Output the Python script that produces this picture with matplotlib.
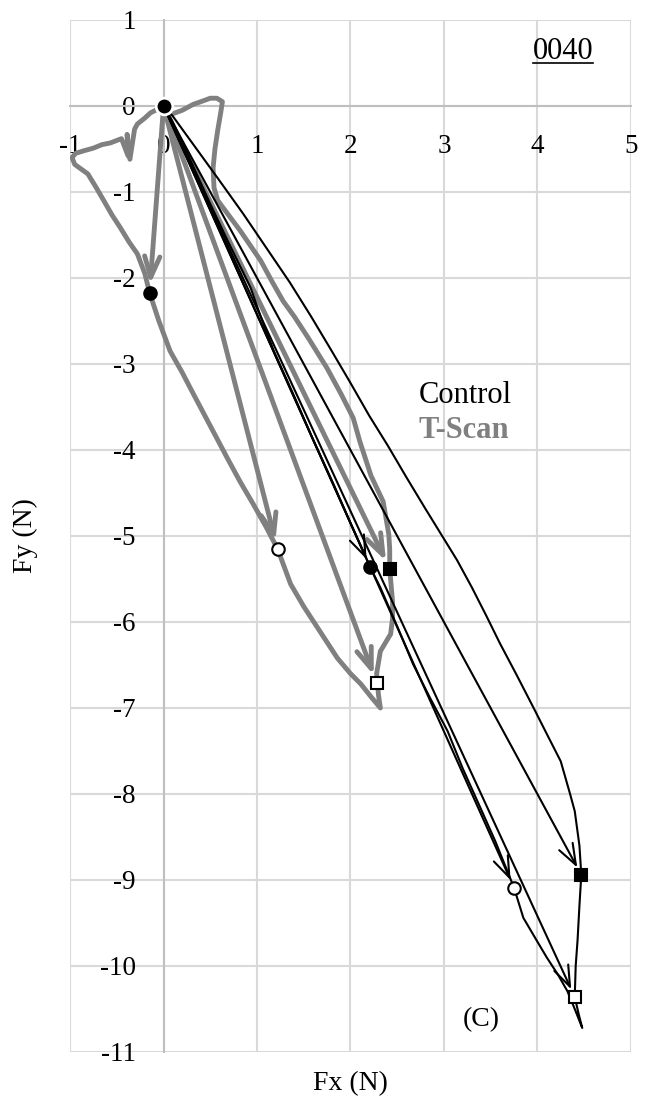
import numpy as np
import matplotlib
matplotlib.use("Agg")
import matplotlib.pyplot as plt
from matplotlib.lines import Line2D

plt.rcParams['font.family'] = ['Liberation Serif', 'DejaVu Serif']
plt.rcParams['axes.unicode_minus'] = False

# T-Scan trajectory (Fx, Fy)
tscan_x = [0, -0.05, -0.14, -0.2, -0.28, -0.31, -0.36, -0.39, -0.38, -0.45, -0.57, -0.66,
           -0.75, -0.85, -0.94, -0.98, -0.95, -0.81, -0.72, -0.64, -0.55, -0.46, -0.37,
           -0.28, -0.2, -0.15, -0.05, 0.07, 0.2, 0.32, 0.5, 0.68, 0.82, 0.96, 1.1, 1.22,
           1.36, 1.5, 1.65, 1.86, 2.0, 2.11, 2.22, 2.32, 2.3, 2.28, 2.32, 2.43, 2.45, 2.45,
           2.42, 2.42, 2.41, 2.35, 2.22, 2.1, 2.03, 1.9, 1.75, 1.55, 1.4, 1.28, 1.16, 1.04,
           0.82, 0.58, 0.54, 0.53, 0.55, 0.58, 0.61, 0.63, 0.57, 0.5, 0.4, 0.32, 0.2, 0.1,
           0.03, 0]
tscan_y = [0, -0.03, -0.08, -0.14, -0.21, -0.27, -0.62, -0.33, -0.58, -0.38, -0.43, -0.45,
           -0.49, -0.52, -0.55, -0.6, -0.68, -0.79, -0.95, -1.1, -1.27, -1.42, -1.58,
           -1.72, -1.95, -2.17, -2.5, -2.85, -3.1, -3.35, -3.72, -4.09, -4.37, -4.63, -4.9,
           -5.15, -5.56, -5.82, -6.07, -6.42, -6.6, -6.72, -6.87, -7.0, -6.85, -6.6, -6.34,
           -6.14, -5.96, -5.76, -5.38, -5.15, -4.98, -4.6, -4.3, -3.9, -3.63, -3.35, -3.05,
           -2.7, -2.45, -2.27, -2.04, -1.8, -1.45, -1.1, -0.95, -0.72, -0.5, -0.28, -0.09,
           0.05, 0.09, 0.09, 0.05, 0.02, -0.05, -0.09, -0.04, 0]

# Control trajectory
control_x = [0, 0.08, 0.2, 0.35, 0.5, 0.7, 0.93, 1.05, 1.18, 1.4, 1.6, 1.82, 2.0, 2.21,
             2.32, 2.5, 2.67, 2.85, 3.04, 3.2, 3.39, 3.55, 3.68, 3.75, 3.85, 3.98, 4.1,
             4.22, 4.32, 4.4, 4.48, 4.44, 4.40, 4.41, 4.43, 4.45, 4.47, 4.45, 4.40, 4.35,
             4.25, 4.1, 3.96, 3.78, 3.6, 3.45, 3.3, 3.14, 2.97, 2.8, 2.6, 2.4, 2.2,
             2.0, 1.8, 1.58, 1.35, 1.1, 0.85, 0.58, 0.3, 0.1, 0]
control_y = [0, -0.15, -0.42, -0.78, -1.14, -1.6, -2.11, -2.48, -2.85, -3.38, -3.88, -4.4,
             -4.85, -5.36, -5.6, -6.05, -6.49, -6.88, -7.27, -7.7, -8.16, -8.55, -8.9,
             -9.09, -9.44, -9.68, -9.9, -10.1, -10.29, -10.5, -10.72, -10.55, -10.36, -10.0,
             -9.7, -9.3, -8.94, -8.6, -8.2, -8.0, -7.62, -7.3, -7.0, -6.62, -6.25, -5.92,
             -5.6, -5.28, -4.98, -4.68, -4.32, -3.95, -3.6, -3.22, -2.85, -2.45, -2.05,
             -1.65, -1.25, -0.84, -0.42, -0.12, 0]

# marked time points
tscan_mx = [-0.15, 1.22, 2.28, 2.42]
tscan_my = [-2.17, -5.15, -6.71, -5.38]
control_mx = [2.21, 3.75, 4.40, 4.47]
control_my = [-5.36, -9.09, -10.36, -8.94]
mark_shape = ['o', 'o', 's', 's']
mark_fill = ['k', 'w', 'w', 'k']

gray = '#808080'

fig = plt.figure(figsize=(6.49, 11.09), dpi=100)
ax = fig.add_axes([0.108, 0.0514, 0.864, 0.9306])

ax.plot(tscan_x, tscan_y, color=gray, lw=3.5, solid_joinstyle='round', zorder=3)
ax.plot(control_x, control_y, color='k', lw=1.5, zorder=4)

for x, y in zip(tscan_mx, tscan_my):
    ax.annotate('', xy=(x, y), xytext=(0, 0),
                arrowprops=dict(arrowstyle='->,head_length=1.5,head_width=0.55',
                                color=gray, lw=3.5, shrinkA=0, shrinkB=6), zorder=3)
for x, y in zip(control_mx, control_my):
    ax.annotate('', xy=(x, y), xytext=(0, 0),
                arrowprops=dict(arrowstyle='->,head_length=1.5,head_width=0.55',
                                color='k', lw=1.5, shrinkA=0, shrinkB=6), zorder=4)

for i in range(4):
    ax.plot(tscan_mx[i], tscan_my[i], marker=mark_shape[i], ms=9, mfc=mark_fill[i],
            mec='k', mew=1.5, zorder=6)
    ax.plot(control_mx[i], control_my[i], marker=mark_shape[i], ms=9, mfc=mark_fill[i],
            mec='k', mew=1.5, zorder=6)
ax.plot(0, 0, marker='o', ms=12, mfc='k', mec='w', mew=2, zorder=7)

ax.set_xlim(-1, 5)
ax.set_ylim(-11, 1)
ax.set_xticks(range(-1, 6))
ax.set_yticks(range(-11, 2))
ax.grid(True, color='#d9d9d9', lw=1.5, zorder=0)
ax.set_axisbelow(True)
for s in ['top', 'right']:
    ax.spines[s].set_visible(False)
ax.spines['left'].set_position(('data', 0))
ax.spines['bottom'].set_position(('data', 0))
ax.spines['left'].set_color('#bfbfbf')
ax.spines['bottom'].set_color('#bfbfbf')
ax.spines['left'].set_linewidth(1.5)
ax.spines['bottom'].set_linewidth(1.5)
ax.spines['left'].set_zorder(1)
ax.spines['bottom'].set_zorder(1)
ax.tick_params(length=0, pad=20, labelsize=19.5)

fig.text(0.54, 0.012, 'Fx (N)', fontsize=20, ha='center', va='bottom')
fig.text(0.02, 0.517, 'Fy (N)', fontsize=20, ha='left', va='center', rotation=90)

ax.text(2.73, -3.45, 'Control', fontsize=22, color='k')
ax.text(2.73, -3.86, 'T-Scan', fontsize=22, color=gray, fontweight='bold')
ax.text(3.2, -10.7, '(C)', fontsize=20)
lbl = ax.text(4.6, 0.55, '0040', fontsize=22, ha='right')

fig.canvas.draw()
bb = lbl.get_window_extent().transformed(fig.transFigure.inverted())
fig.add_artist(Line2D([bb.x0, bb.x1], [bb.y0 + 0.002, bb.y0 + 0.002], color='k', lw=1.2))

fig.savefig('out.png', dpi=100)
